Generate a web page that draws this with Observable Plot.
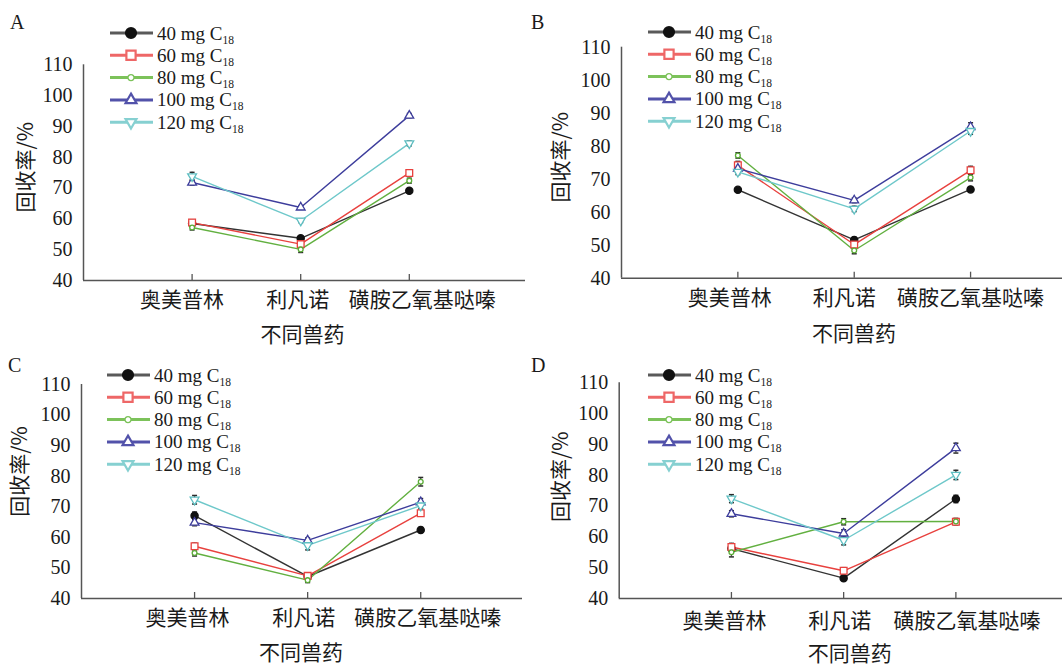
<!DOCTYPE html>
<html><head><meta charset="utf-8">
<script src="https://cdn.jsdelivr.net/npm/d3@7"></script>
<script src="https://cdn.jsdelivr.net/npm/@observablehq/plot@0.6"></script>
<style>
body{margin:0;background:#fff;}
#root{position:relative;width:1062px;height:667px;overflow:hidden;background:#fff;}
.panel{position:absolute;}
.panel svg{overflow:visible;}
.letter{position:absolute;font-family:"Liberation Serif",serif;font-size:20px;color:#1a1a1a;line-height:20px;}
.legend{position:absolute;overflow:visible;}
</style></head><body><div id="root"></div>
<script>
// ---- data ----
const drugs = ["奥美普林", "利凡诺", "磺胺乙氧基哒嗪"];
const seriesNames = ["40 mg", "60 mg", "80 mg", "100 mg", "120 mg"];
const panelNames = ["A", "B", "C", "D"];
const yTicks = [40, 50, 60, 70, 80, 90, 100, 110];
const xTitle = "不同兽药";
const yTitle = "回收率/%";

// recovery (%) per series (rows) per drug (cols)
const recA = [[58.5, 53.7, 69.1], [58.8, 51.8, 74.9], [57.2, 50.1, 72.4], [71.8, 63.7, 93.5], [73.8, 59.4, 84.5]];
const errA = [[0.8, 0.7, 0.6], [0.9, 0.9, 1.0], [0.8, 1.0, 0.8], [0.8, 0.6, 0.7], [1.3, 0.6, 0.8]];
const recB = [[66.8, 51.6, 66.9], [74.2, 50.2, 72.7], [77.2, 48.4, 70.5], [73.2, 63.6, 85.8], [72.2, 61.0, 84.6]];
const errB = [[0.5, 0.8, 0.6], [1.2, 1.0, 1.2], [0.8, 1.0, 1.0], [1.2, 0.7, 1.3], [0.8, 0.8, 1.0]];
const recC = [[67.1, 47.2, 62.4], [57.1, 47.4, 67.9], [54.9, 46.0, 78.2], [64.8, 59.0, 71.5], [72.3, 57.4, 70.4]];
const errC = [[1.2, 0.6, 0.8], [1.0, 0.6, 1.0], [1.0, 0.8, 1.4], [1.0, 0.8, 1.2], [1.4, 1.5, 1.0]];
const recD = [[56.2, 46.6, 72.3], [56.7, 49.0, 64.9], [55.0, 64.9, 65.0], [67.5, 61.1, 88.8], [72.4, 58.9, 80.1]];
const errD = [[1.0, 0.6, 1.2], [1.2, 1.0, 1.0], [1.5, 1.0, 1.0], [1.0, 1.2, 1.6], [1.3, 1.5, 1.5]];

// ---- styles / layout ----
const lineColors = ["#333333", "#e8413e", "#62b040", "#3d3d9c", "#6ec8ca"];
const legendColors = ["#5a5a5a", "#ee6767", "#7cc25a", "#5252aa", "#86d0d1"];
const serif = "Liberation Serif, Times New Roman, serif";
const cjk = "Noto Sans CJK SC, sans-serif";

const sqrt3 = Math.sqrt(3);
const triUp = {draw(ctx, size) { const k = Math.sqrt(size) * 0.6824, t = k / 2, u = k * sqrt3 / 2; ctx.moveTo(0, -k); ctx.lineTo(u, t); ctx.lineTo(-u, t); ctx.closePath(); }};
const triDown = {draw(ctx, size) { const k = Math.sqrt(size) * 0.6824, t = k / 2, u = k * sqrt3 / 2; ctx.moveTo(0, k); ctx.lineTo(u, -t); ctx.lineTo(-u, -t); ctx.closePath(); }};
const cap = {draw(ctx, size) { const r = Math.sqrt(size / Math.PI); ctx.moveTo(-r, 0); ctx.lineTo(r, 0); }};
const markerStyle = [
  {symbol: "circle", r: 3.6, fill: "#111", stroke: "#111"},
  {symbol: "square", r: 3.8, fill: "white", stroke: "#e8413e"},
  {symbol: "circle", r: 2.4, fill: "white", stroke: "#5cad38"},
  {symbol: triUp, r: 4.2, fill: "white", stroke: "#3d3d9c"},
  {symbol: triDown, r: 4.2, fill: "white", stroke: "#5fbfc2"}
];

const layouts = [
  {left: 0, top: 0, h: 334, ml: 83, mt: 64.3, mb: 54, mr: 6, xEnd: 4.07, ytx: -57, yty: -5.5, xtdy: 55, xtdx: -2,
   catDx: [-10, -3, 13], catPad: 12, letter: [10, 12], legend: [110, 32.7]},
  {left: 531, top: 0, h: 334, ml: 90, mt: 46.7, mb: 56.3, mr: 0, xEnd: 3.79, ytx: -60, yty: -5.5, xtdy: 56.3, xtdx: 12,
   catDx: [-8, -10, 0], catPad: 12, letter: [531, 12], legend: [647.7, 31.7]},
  {left: 0, top: 333, h: 334, ml: 81, mt: 51, mb: 69, mr: 9, xEnd: 3.9, ytx: -61, yty: -20, xtdy: 55, xtdx: -1,
   catDx: [-7, -4, 7], catPad: 12, letter: [8, 355], legend: [106.7, 374.7]},
  {left: 531, top: 333, h: 334, ml: 87.7, mt: 49.3, mb: 69, mr: 0, xEnd: 3.95, ytx: -58, yty: -14, xtdy: 56, xtdx: 9,
   catDx: [-7, -4, 11], catPad: 15, letter: [531, 355], legend: [647.7, 374.7]}
];

const panels = [[recA, errA], [recB, errB], [recC, errC], [recD, errD]];
const root = document.getElementById("root");

panels.forEach(([rec, err], p) => {
  const L = layouts[p];
  const rows = [];
  rec.forEach((vals, s) => vals.forEach((v, j) => rows.push({s, series: seriesNames[s], i: j + 1, v, e: err[s][j]})));

  const marks = [
    Plot.axisY({ticks: yTicks, tickSize: 0, tickPadding: 11, fontSize: 20, fontFamily: serif, label: null}),
    // inward tick marks at each category
    Plot.axisX({ticks: [1, 2, 3], tickSize: -6, tickFormat: () => "", label: null, stroke: "#555", strokeWidth: 1.3}),
    // category labels
    ...drugs.map((name, k) => Plot.axisX({ticks: [k + 1], tickFormat: i => drugs[i - 1], tickSize: 0, tickPadding: L.catPad,
      dx: L.catDx[k], fontSize: 21, fontFamily: cjk, label: null})),
    Plot.ruleY([40], {stroke: "#555", strokeWidth: 1.5}),
    Plot.ruleX([0], {stroke: "#555", strokeWidth: 1.5}),
    Plot.text([xTitle], {text: d => d, frameAnchor: "bottom", lineAnchor: "middle", textAnchor: "middle",
      dy: L.xtdy, dx: L.xtdx, fontSize: 21, fontFamily: cjk, fill: "#1a1a1a"}),
    Plot.text([yTitle], {text: d => d, frameAnchor: "left", textAnchor: "middle", lineAnchor: "middle", rotate: -90,
      dx: L.ytx, dy: L.yty, fontSize: 21, fontFamily: cjk, fill: "#1a1a1a"})
  ];
  seriesNames.forEach((name, s) => {
    marks.push(Plot.line(rows.filter(d => d.s === s), {x: "i", y: "v", stroke: lineColors[s], strokeWidth: 1.4}));
  });
  marks.push(Plot.ruleX(rows, {x: "i", y1: d => d.v - d.e, y2: d => d.v + d.e, stroke: "#2a2a2a", strokeWidth: 1.4, strokeOpacity: 0.85}));
  marks.push(Plot.dot(rows, {x: "i", y: d => d.v + d.e, symbol: cap, r: 2.5, stroke: "#2a2a2a", strokeWidth: 1.5}));
  marks.push(Plot.dot(rows, {x: "i", y: d => d.v - d.e, symbol: cap, r: 2.5, stroke: "#2a2a2a", strokeWidth: 1.5}));
  seriesNames.forEach((name, s) => {
    const m = markerStyle[s];
    marks.push(Plot.dot(rows.filter(d => d.s === s), {x: "i", y: "v", symbol: m.symbol, r: m.r, fill: m.fill, stroke: m.stroke, strokeWidth: 1.3}));
  });

  const chart = Plot.plot({
    width: 531, height: L.h,
    marginLeft: L.ml, marginTop: L.mt, marginBottom: L.mb, marginRight: L.mr,
    x: {domain: [0, L.xEnd]},
    y: {domain: [40, 110]},
    style: {background: "transparent", color: "#1a1a1a", overflow: "visible"},
    marks
  });
  const wrap = document.createElement("div");
  wrap.className = "panel";
  wrap.style.left = L.left + "px";
  wrap.style.top = L.top + "px";
  wrap.appendChild(chart);
  root.appendChild(wrap);

  // panel letter
  const lt = document.createElement("div");
  lt.className = "letter";
  lt.style.left = L.letter[0] + "px";
  lt.style.top = L.letter[1] + "px";
  lt.textContent = panelNames[p];
  root.appendChild(lt);

  // legend
  const spacing = 22.3;
  const svg = d3.create("svg").attr("class", "legend").attr("width", 200).attr("height", 120)
    .style("left", (L.legend[0] - 2) + "px").style("top", (L.legend[1] - 12) + "px");
  seriesNames.forEach((name, s) => {
    const g = svg.append("g").attr("transform", `translate(2,${12 + s * spacing})`);
    g.append("line").attr("x1", 0).attr("x2", 43).attr("y1", 0).attr("y2", 0)
      .attr("stroke", legendColors[s]).attr("stroke-width", 3);
    const m = markerStyle[s];
    const symType = m.symbol === "circle" ? d3.symbolCircle : m.symbol === "square" ? d3.symbolSquare : m.symbol;
    const rr = s === 0 ? 5 : s === 2 ? 3 : 5.2;
    g.append("path").attr("transform", "translate(21,0)")
      .attr("d", d3.symbol(symType, Math.PI * rr * rr)())
      .attr("fill", s === 0 ? "#111" : "white")
      .attr("stroke", s === 0 ? "#111" : legendColors[s]).attr("stroke-width", s === 2 ? 1.3 : 2.2);
    const t = g.append("text").attr("x", 47).attr("y", 6.5)
      .attr("font-family", serif).attr("font-size", 19).attr("fill", "#1a1a1a");
    t.append("tspan").text(name + " C");
    t.append("tspan").attr("font-size", 11.5).attr("dy", 4).text("18");
  });
  root.appendChild(svg.node());
});
</script></body></html>
